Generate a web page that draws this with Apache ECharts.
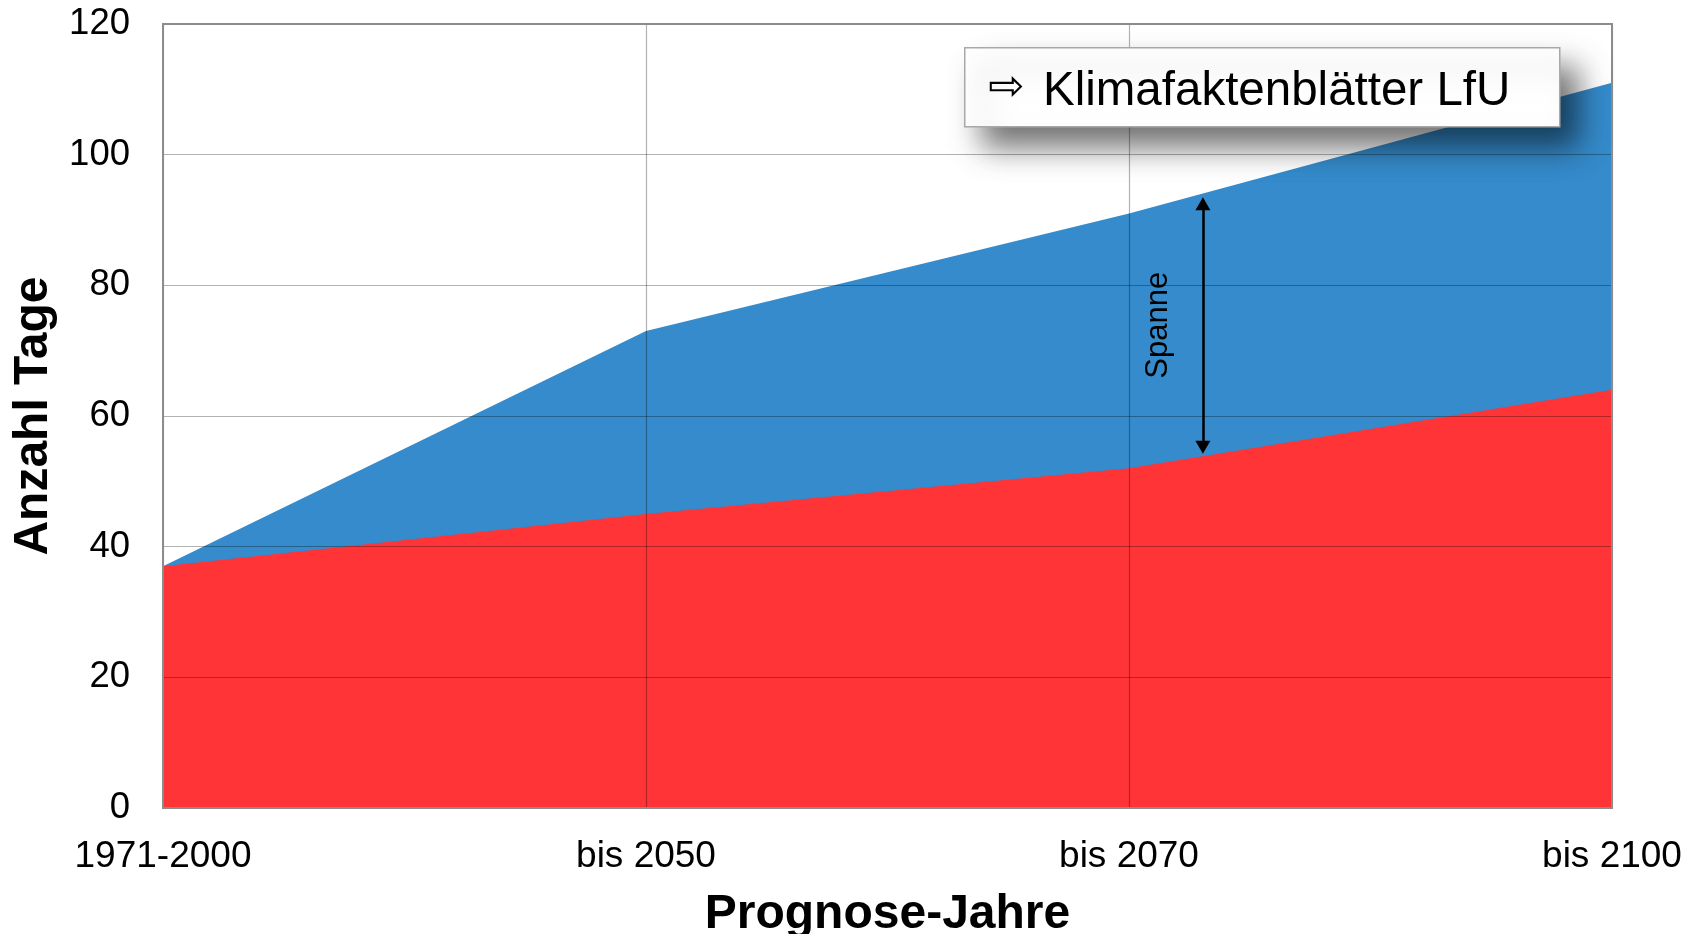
<!DOCTYPE html>
<html>
<head>
<meta charset="utf-8">
<script src="https://cdn.jsdelivr.net/npm/echarts@6/dist/echarts.min.js"></script>
<style>
html,body{margin:0;padding:0;background:#fff;}
#chart{width:1688px;height:934px;}
</style>
</head>
<body>
<div id="chart"></div>
<script>
const categories = ['1971-2000', 'bis 2050', 'bis 2070', 'bis 2100'];
const upperValues = [37, 73, 91, 111];
const lowerValues = [37, 45, 52, 64];
const yMin = 0, yMax = 120, yStep = 20;
const spanX = 2.153, spanTop = 92.5, spanBottom = 55.2;
const spanLabelPos = [2.06, 73.9];
const boxText = 'Klimafaktenblätter LfU';

const FONT = '"Liberation Sans", Arial, sans-serif';
const chart = echarts.init(document.getElementById('chart'));
chart.setOption({
  animation: false,
  backgroundColor: '#fff',
  grid: { left: 163, right: 76, top: 24, bottom: 126, show: true, borderColor: '#8c8c8c', borderWidth: 2, z: 10,
    containLabel: false, outerBoundsMode: 'none' },
  xAxis: {
    type: 'value', min: 0, max: categories.length - 1, interval: 1, z: 5,
    name: 'Prognose-Jahre', nameLocation: 'middle', nameGap: 83,
    nameTextStyle: { fontFamily: FONT, fontSize: 48, fontWeight: 'bold', color: '#000' },
    axisLine: { show: false }, axisTick: { show: false },
    axisLabel: { fontFamily: FONT, fontSize: 37, color: '#000', margin: 30,
      formatter: v => categories[v] || '' },
    splitLine: { show: true, lineStyle: { color: 'rgba(0,0,0,0.3)', width: 1.2 } }
  },
  yAxis: {
    type: 'value', min: yMin, max: yMax, interval: yStep, z: 5,
    name: 'Anzahl Tage', nameLocation: 'middle', nameGap: 103, nameRotate: 90,
    nameTextStyle: { fontFamily: FONT, fontSize: 48, fontWeight: 'bold', color: '#000' },
    axisLine: { show: false }, axisTick: { show: false },
    axisLabel: { fontFamily: FONT, fontSize: 36.5, color: '#000', margin: 33 },
    splitLine: { show: true, lineStyle: { color: 'rgba(0,0,0,0.3)', width: 1.2 } }
  },
  series: [
    {
      name: 'Obergrenze', type: 'line', z: 2,
      data: upperValues.map((v, i) => [i, v]),
      showSymbol: false, symbol: 'none',
      lineStyle: { width: 0 },
      areaStyle: { color: '#358bcb', opacity: 1 },
      markLine: {
        silent: true, symbol: ['triangle', 'triangle'], symbolSize: [15, 13],
        lineStyle: { color: '#000', width: 2.5, type: 'solid' },
        label: { show: false },
        data: [[{ coord: [spanX, spanTop] }, { coord: [spanX, spanBottom] }]]
      },
      markPoint: {
        silent: true, symbol: 'circle', symbolSize: 0,
        label: { show: true, formatter: 'Spanne', rotate: 90, fontFamily: FONT, fontSize: 31, color: '#000', position: 'inside' },
        data: [{ coord: spanLabelPos }]
      }
    },
    {
      name: 'Untergrenze', type: 'line', z: 3,
      data: lowerValues.map((v, i) => [i, v]),
      showSymbol: false, symbol: 'none',
      lineStyle: { width: 0 },
      areaStyle: { color: '#ff3436', opacity: 1 }
    }
  ],
  graphic: [
    {
      type: 'rect', z: 100, left: 964, top: 47,
      shape: { width: 595, height: 79 },
      style: { fill: '#fff', stroke: '#a8a8a8', lineWidth: 1.5,
        shadowBlur: 30, shadowOffsetX: 18, shadowOffsetY: 20, shadowColor: 'rgba(0,0,0,0.55)' }
    },
    {
      type: 'text', z: 101, x: 988, y: 89,
      style: { text: '⇨', font: '43px "DejaVu Sans"', fill: '#000', verticalAlign: 'middle', align: 'left' }
    },
    {
      type: 'text', z: 101, x: 1043, y: 92,
      style: { text: boxText, font: '47.5px ' + FONT, fill: '#000', verticalAlign: 'middle', align: 'left' }
    }
  ]
});
</script>
</body>
</html>
